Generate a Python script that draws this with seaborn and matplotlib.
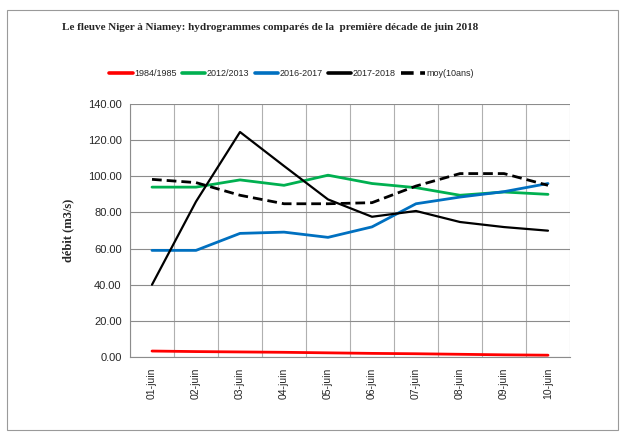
import numpy as np
import pandas as pd
import matplotlib
matplotlib.use("Agg")
import matplotlib.pyplot as plt
import seaborn as sns
from matplotlib.patches import Rectangle
from matplotlib.ticker import MultipleLocator, FixedLocator

# data
jours = ["01-juin", "02-juin", "03-juin", "04-juin", "05-juin",
         "06-juin", "07-juin", "08-juin", "09-juin", "10-juin"]
q_1984 = [3.3, 3.0, 2.8, 2.6, 2.3, 2.0, 1.8, 1.5, 1.2, 1.0]
q_2012 = [94.0, 94.0, 98.0, 95.0, 100.6, 96.0, 93.7, 89.5, 91.3, 90.0]
q_2016 = [59.0, 59.0, 68.4, 69.1, 66.2, 72.0, 84.8, 88.5, 91.5, 96.0]
q_2017 = [40.0, 86.0, 124.5, 105.7, 87.2, 77.6, 80.8, 74.7, 71.9, 69.9]
q_moy = [98.3, 96.5, 89.5, 84.8, 84.8, 85.4, 94.6, 101.5, 101.5, 95.0]

series = [
    ("1984/1985", q_1984, "#FF0000", "-", 2.0),
    ("2012/2013", q_2012, "#00B050", "-", 2.0),
    ("2016-2017", q_2016, "#0070C0", "-", 2.0),
    ("2017-2018", q_2017, "#000000", "-", 1.6),
    ("moy(10ans)", q_moy, "#000000", (0, (3.5, 1.8)), 2.0),
]

sns.set_style("white")
plt.rcParams["font.family"] = ["Liberation Sans", "DejaVu Sans"]

fig = plt.figure(figsize=(6.21, 4.34), dpi=100)
ax = fig.add_axes([130 / 621, 1 - 357 / 434, 440 / 621, 253 / 434])

# chart area border
fig.patches.append(Rectangle((7 / 621, 4 / 434), 611 / 621, 420 / 434,
                             transform=fig.transFigure, fill=False,
                             edgecolor="#9a9a9a", linewidth=0.8))

x = np.arange(len(jours))
for name, vals, col, ls, lw in series:
    sns.lineplot(x=x, y=vals, ax=ax, color=col, linestyle=ls, linewidth=lw,
                 label=name, legend=False)

ax.set_xlim(-0.5, len(jours) - 0.5)
ax.set_ylim(0, 140)
ax.yaxis.set_major_locator(MultipleLocator(20))
ax.set_yticklabels([f"{v:.2f}" for v in ax.get_yticks()])
ax.set_xticks(x)
ax.set_xticklabels(jours, rotation=90, fontsize=7.5)
ax.xaxis.set_minor_locator(FixedLocator(np.arange(-0.5, len(jours), 1.0)))
ax.tick_params(axis="x", which="major", length=0, pad=8)
ax.tick_params(axis="x", which="minor", length=4, color="#888888", direction="out")
ax.tick_params(axis="y", length=4, color="#888888", direction="out", labelsize=8, pad=2)
ax.grid(True, axis="y", which="major", color="#8c8c8c", linewidth=0.8)
ax.grid(True, axis="x", which="minor", color="#b0b0b0", linewidth=0.8)
for side in ["top", "right"]:
    ax.spines[side].set_visible(False)
for side in ["left", "bottom"]:
    ax.spines[side].set_color("#8c8c8c")
    ax.spines[side].set_linewidth(0.8)

ax.set_ylabel("débit (m3/s)", fontsize=9, fontweight="bold",
              family="Liberation Serif", labelpad=10)
ax.set_xlabel("")

fig.text(0.435, 1 - 28 / 434,
         "Le fleuve Niger à Niamey: hydrogrammes comparés de la  première décade de juin 2018",
         ha="center", va="center", fontsize=8, fontweight="bold",
         family="Liberation Serif")

handles, labels = ax.get_legend_handles_labels()
leg = fig.legend(handles, labels, loc="center", bbox_to_anchor=(0.469, 1 - 74 / 434),
                 ncol=5, frameon=False, handlelength=2.6,
                 handletextpad=0.15, columnspacing=0.6,
                 prop={"family": ["Liberation Sans Narrow", "Liberation Sans"], "size": 6.5})
for h in leg.get_lines():
    h.set_linewidth(2.6)

fig.savefig("out.png", dpi=100)
